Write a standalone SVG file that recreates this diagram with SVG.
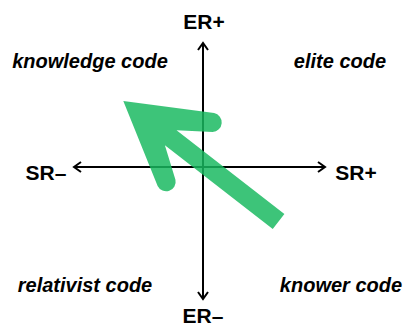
<svg xmlns="http://www.w3.org/2000/svg" width="404" height="328" viewBox="0 0 404 328">
  <style>
    .axis { stroke: #000; stroke-width: 2; fill: none; }
    .pole { font-family: "Liberation Sans", Arial, sans-serif; font-weight: bold; font-size: 21px; fill: #000; text-anchor: middle; }
    .code { font-family: "Liberation Sans", Arial, sans-serif; font-weight: bold; font-style: italic; font-size: 20px; fill: #000; text-anchor: middle; }
    .move { fill: #18b95f; fill-opacity: 0.84; }
  </style>
  <defs>
    <marker id="head" markerUnits="userSpaceOnUse" markerWidth="16" markerHeight="16" viewBox="-10 -8 12 16" refX="0" refY="0" orient="auto-start-reverse">
      <path d="M-7,-5 L0,0 L-7,5" stroke="#000" stroke-width="2" fill="none"/>
    </marker>
  </defs>

  <!-- axes -->
  <g id="connectors">
    <line class="axis" x1="203" y1="299" x2="203" y2="43" marker-start="url(#head)" marker-end="url(#head)"/>
    <line class="axis" x1="74" y1="167" x2="325" y2="167" marker-start="url(#head)" marker-end="url(#head)"/>
  </g>

  <!-- pole labels -->
  <g id="er-plus"><text class="pole" x="204" y="29">ER+</text></g>
  <g id="er-minus"><text class="pole" x="203" y="323">ER–</text></g>
  <g id="sr-minus"><text class="pole" x="46" y="180">SR–</text></g>
  <g id="sr-plus"><text class="pole" x="356" y="180">SR+</text></g>

  <!-- quadrant labels -->
  <g id="knowledge-code"><text class="code" x="90" y="68">knowledge code</text></g>
  <g id="elite-code"><text class="code" x="340" y="68">elite code</text></g>
  <g id="relativist-code"><text class="code" x="85" y="292">relativist code</text></g>
  <g id="knower-code"><text class="code" x="341" y="292">knower code</text></g>

  <!-- movement arrow: tip at the top left, tail at the lower right -->
  <g id="shift-arrow" transform="translate(123.3,101) rotate(37.8)">
    <path class="move" d="M0,0 L79.2,-46.1 A9.5,9.5 0 0 1 89.5,-30.3 L60,-9.5 L196.5,-9.5 L196.5,9.5 L60,9.5 L89.5,30.3 A9.5,9.5 0 0 1 79.2,46.1 Z"/>
  </g>
</svg>
